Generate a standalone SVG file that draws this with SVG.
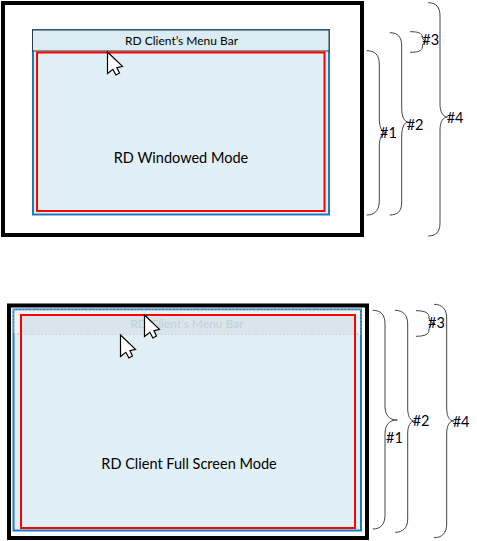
<svg xmlns="http://www.w3.org/2000/svg" xmlns:xlink="http://www.w3.org/1999/xlink" width="477" height="541" viewBox="0 0 477 541">
<style>
.frame{fill:#fff;stroke:#000;stroke-width:4}
.win{fill:#e1f0f6;stroke:#1b7ac2;stroke-width:2}
.red{fill:none;stroke:#f00;stroke-width:2}
.brace{fill:none;stroke:#444;stroke-width:1}
text{font-family:Lato,"Liberation Sans",sans-serif;fill:#000}
.lbl{font-size:14.500px;fill:#00001a}
.big{font-size:14.500px;text-anchor:middle}
.menu{font-size:12px;text-anchor:middle}
.cur{fill:#fff;stroke:#000;stroke-width:1.200;stroke-linejoin:miter}
</style>
<defs>
<path id="cursor" class="cur" d="M0 0V21.500L5.400 17.300L8.400 23L12 21L9.400 15.600L15 14.300Z"/>
</defs>
<rect width="477" height="541" fill="#fff"/>
<g id="windowed-frame">
<rect class="frame" x="3" y="3" width="359" height="232"/>
</g>
<g id="windowed-desktop">
<rect class="win" x="33" y="30" width="296" height="184.500"/>
</g>
<g id="windowed-menu">
<rect x="32.500" y="30" width="296.500" height="21" fill="#daebf1" stroke="#2b3a42" stroke-width="1"/>
<text class="menu" x="181.500" y="44.500">RD Client’s Menu Bar</text>
</g>
<g id="windowed-session">
<rect class="red" x="37" y="52.500" width="287.500" height="158.500"/>
<text class="big" x="181" y="163">RD Windowed Mode</text>
</g>
<g id="fullscreen-frame">
<rect class="frame" x="9" y="305.500" width="358" height="232.500"/>
</g>
<g id="fullscreen-desktop">
<rect class="win" x="13.500" y="309.500" width="347.500" height="221"/>
</g>
<g id="fullscreen-menu">
<rect x="14.500" y="310.500" width="345.500" height="23.500" fill="#f0f2f3"/>
<rect x="13.500" y="309.500" width="347.500" height="24.500" fill="none" stroke="#9aa8ae" stroke-width="0.800" stroke-dasharray="2 1.500"/>
<rect x="21" y="315" width="334" height="19" fill="#d8e5ea"/>
<text class="menu" x="187" y="327.500" style="fill:#c3d2d9">RD Client’s Menu Bar</text>
</g>
<g id="fullscreen-session">
<rect class="red" x="21" y="315" width="334" height="213"/>
<text class="big" x="189" y="469">RD Client Full Screen Mode</text>
</g>
<g id="cursors">
<use xlink:href="#cursor" href="#cursor" x="107.500" y="52"/>
<use xlink:href="#cursor" href="#cursor" x="144.500" y="315"/>
<use xlink:href="#cursor" href="#cursor" x="120.500" y="335"/>
</g>
<g id="connectors">
<path class="brace" d="M366.700 50.700C375 50.700 379.300 55 379.300 64V119C379.300 127 382 132.700 386.700 132.700C382 132.700 379.300 138 379.300 146V201C379.300 210 375 215 366.700 215"/>
<path class="brace" d="M389.700 32.700C398 32.700 401.700 37 401.700 46V108C401.700 116 404 122 408.500 122C404 122 401.700 128 401.700 136V202C401.700 211 398 215 389.700 215"/>
<path class="brace" d="M410 31.700C418 31.700 422.300 33 422.300 37V36C422.300 39 424 41.700 428 41.700C424 41.700 422.300 44 422.300 47C422.300 51 418 52.300 410 52.300"/>
<path class="brace" d="M428.300 2.700C436 2.700 440 7 440 16V104C440 112 443 117 447.500 117C443 117 440 122 440 130V223C440 232 436 236 428.300 236"/>
<path class="brace" d="M372.700 310.300C381 310.300 385 315 385 324V406C385 415 389 420 397.300 420C389 420 385 425 385 434V515C385 524 381 529 372.700 529"/>
<path class="brace" d="M395 310.300C403 310.300 407.700 315 407.700 324V408C407.700 416 410 421 415 421C410 421 407.700 426 407.700 434V519C407.700 528 403 532.300 395 532.300"/>
<path class="brace" d="M416 310.700C425 310.700 429 313 429 317V317C429 320 431 323.300 435 323.300C431 323.300 429 326 429 330C429 334 425 336.300 416 336.300"/>
<path class="brace" d="M434 304.300C442 304.300 446.700 309 446.700 318V408C446.700 416 449 421 454 421C449 421 446.700 426 446.700 434V524C446.700 533 442 537.700 434 537.700"/>
</g>
<g id="labels">
<text class="lbl" x="380" y="138">#1</text>
<text class="lbl" x="406.700" y="130">#2</text>
<text class="lbl" x="422.300" y="45">#3</text>
<text class="lbl" x="446.700" y="123">#4</text>
<text class="lbl" x="386" y="442.500">#1</text>
<text class="lbl" x="412.700" y="426">#2</text>
<text class="lbl" x="428" y="328">#3</text>
<text class="lbl" x="452.700" y="427">#4</text>
</g>
</svg>
